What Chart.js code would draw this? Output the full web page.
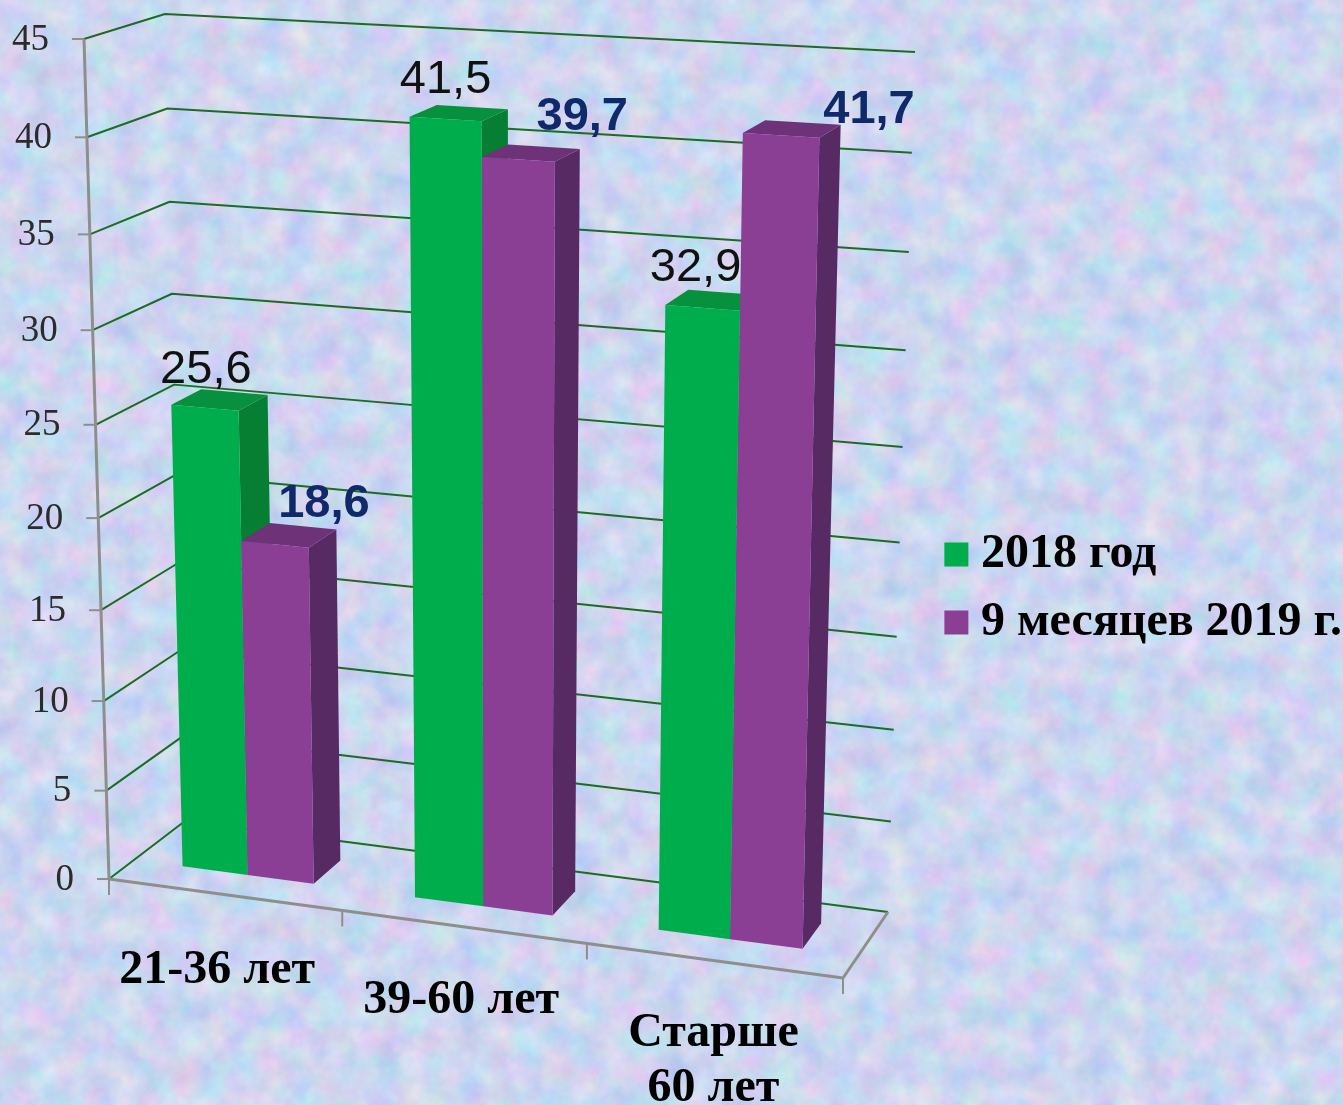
<!DOCTYPE html>
<html lang="ru">
<head>
<meta charset="utf-8">
<title>Chart</title>
<style>
    html, body { margin: 0; padding: 0; width: 1343px; height: 1105px; overflow: hidden; background: #c9d8f0; }
    #texture { position: absolute; left: 0; top: 0; }
    #chart { position: absolute; left: 0; top: 0; filter: blur(0.5px); }
</style>
<script src="https://cdn.jsdelivr.net/npm/chart.js@4"></script>
</head>
<body>
<svg id="texture" width="1343" height="1105">
    <filter id="paper" color-interpolation-filters="sRGB" x="0" y="0" width="100%" height="100%">
        <feTurbulence type="fractalNoise" baseFrequency="0.035" numOctaves="4" seed="7"/>
        <feColorMatrix type="matrix" values="0.3 0 0 0 0.65  0 0.2 0 0 0.74  0 0 0.1 0 0.89  0 0 0 0 1"/>
    </filter>
    <rect width="1343" height="1105" filter="url(#paper)"/>
</svg>
<canvas id="chart" width="1343" height="1105"></canvas>
<script>
const categories = ['21-36 лет', '39-60 лет', ['Старше', '60 лет']];
const series2018 = [25.6, 41.5, 32.9];
const series2019 = [18.6, 39.7, 41.7];
const seriesNames = ['2018 год', '9 месяцев 2019 г.'];
const yMax = 45;
const yStep = 5;

// corners of the 3D box on screen
const frontBL = [109, 879], frontBR = [843, 978], frontTL = [84, 39], frontTR = [862, 83];
const backBL = [185, 821], backBR = [888, 912], backTL = [165, 14], backTR = [915, 52];
const barDepth = [0.33, 0.72];

const lerp = (a, b, t) => [a[0] + (b[0] - a[0]) * t, a[1] + (b[1] - a[1]) * t];

const project = (u, v, d) => {
    const uu = 0.93 * u + 0.07 * u * u;
    const w = 0.94 * v + 0.06 * v * v;
    const front = lerp(lerp(frontBL, frontBR, uu), lerp(frontTL, frontTR, uu), w);
    const back = lerp(lerp(backBL, backBR, uu), lerp(backTL, backTR, uu), w);
    return lerp(front, back, d);
};

const polyline = (ctx, points, color, width) => {
    ctx.beginPath();
    points.forEach((p, i) => (i ? ctx.lineTo(p[0], p[1]) : ctx.moveTo(p[0], p[1])));
    ctx.strokeStyle = color;
    ctx.lineWidth = width;
    ctx.stroke();
};

const quad = (ctx, points, color) => {
    ctx.beginPath();
    points.forEach((p, i) => (i ? ctx.lineTo(p[0], p[1]) : ctx.moveTo(p[0], p[1])));
    ctx.closePath();
    ctx.fillStyle = color;
    ctx.fill();
};

const faceColors = [
    { side: '#067f32', top: '#07903e' },
    { side: '#582a63', top: '#6e3278' },
];
const labelStyles = [
    { font: '47px "Liberation Sans"', color: '#111111', nudge: [[1, -25], [0, -26], [-7, -27]] },
    { font: 'bold 47px "Liberation Sans"', color: '#10296b', nudge: [[49, -27], [64, -29], [88, -12]] },
];
const categoryNudge = [[-7, 88], [-2, 86], [0, 85]];

const box3d = {
    id: 'box3d',
    beforeDatasetsDraw(chart) {
        const { ctx, chartArea: area, scales: { x, y } } = chart;
        const toU = (px) => (px - area.left) / (area.right - area.left);
        const toV = (py) => (area.bottom - py) / (area.bottom - area.top);

        ctx.save();
        ctx.lineJoin = 'round';

        // walls
        y.ticks.forEach((tick) => {
            const v = toV(y.getPixelForValue(tick.value));
            polyline(ctx, [project(0, v, 0), project(0, v, 1), project(1, v, 1)], '#1d6c24', 2);
        });

        // bars, one category at a time so the nearer faces cover the others
        categories.forEach((cat, i) => {
            chart.data.datasets.forEach((ds, k) => {
                const el = chart.getDatasetMeta(k).data[i];
                const u0 = toU(el.x - el.width / 2);
                const u1 = toU(el.x + el.width / 2);
                const v = toV(el.y);
                const [d0, d1] = barDepth;
                quad(ctx, [project(u1, 0, d0), project(u1, 0, d1), project(u1, v, d1), project(u1, v, d0)], faceColors[k].side);
                quad(ctx, [project(u0, v, d0), project(u1, v, d0), project(u1, v, d1), project(u0, v, d1)], faceColors[k].top);
                quad(ctx, [project(u0, 0, d0), project(u1, 0, d0), project(u1, v, d0), project(u0, v, d0)], ds.backgroundColor);
            });
        });

        // axes
        const axisColor = '#8e8e8c';
        polyline(ctx, [project(0, 1, 0), project(0, 0, 0), project(1, 0, 0), project(1, 0, 1)], axisColor, 3);
        y.ticks.forEach((tick) => {
            const p = project(0, toV(y.getPixelForValue(tick.value)), 0);
            polyline(ctx, [[p[0] - 12, p[1]], p], axisColor, 2);
        });
        const step = (area.right - area.left) / categories.length;
        for (let i = 0; i <= categories.length; i++) {
            const p = project(toU(area.left + step * i), 0, 0);
            polyline(ctx, [p, [p[0], p[1] + 16]], axisColor, 2);
        }

        // y tick labels
        ctx.font = '37px "Liberation Serif"';
        ctx.fillStyle = '#2b2b2b';
        ctx.textAlign = 'right';
        ctx.textBaseline = 'middle';
        y.ticks.forEach((tick) => {
            const p = project(0, toV(y.getPixelForValue(tick.value)), 0);
            ctx.fillText(tick.label, p[0] - 35, p[1] + 1);
        });

        // category labels
        ctx.font = 'bold 48px "Liberation Serif"';
        ctx.fillStyle = '#000000';
        ctx.textAlign = 'center';
        ctx.textBaseline = 'alphabetic';
        categories.forEach((cat, i) => {
            const p = project(toU(x.getPixelForValue(i)), 0, 0);
            [].concat(cat).forEach((line, n) => {
                ctx.fillText(line, p[0] + categoryNudge[i][0], p[1] + categoryNudge[i][1] + n * 55);
            });
        });

        // value labels
        chart.data.datasets.forEach((ds, k) => {
            ctx.font = labelStyles[k].font;
            ctx.fillStyle = labelStyles[k].color;
            ds.data.forEach((value, i) => {
                const el = chart.getDatasetMeta(k).data[i];
                const p = project(toU(el.x), toV(el.y), barDepth[0]);
                const nudge = labelStyles[k].nudge[i];
                ctx.fillText(String(value).replace('.', ','), p[0] + nudge[0], p[1] + nudge[1]);
            });
        });

        ctx.restore();
        return false;
    },
};

new Chart(document.getElementById('chart'), {
    type: 'bar',
    data: {
        labels: categories,
        datasets: [
            { label: seriesNames[0], data: series2018, backgroundColor: '#00ad4c', borderColor: '#00ad4c', borderWidth: 23 },
            { label: seriesNames[1], data: series2019, backgroundColor: '#8a3f94', borderColor: '#8a3f94', borderWidth: 23 },
        ],
    },
    options: {
        responsive: false,
        animation: false,
        layout: { padding: { top: 72, right: -9 } },
        categoryPercentage: 0.57,
        barPercentage: 1,
        scales: {
            x: { display: false },
            y: { display: false, min: 0, max: yMax, ticks: { stepSize: yStep } },
        },
        plugins: {
            tooltip: { enabled: false },
            legend: {
                position: 'right',
                labels: {
                    boxWidth: 1,
                    boxHeight: 1,
                    padding: 20,
                    color: '#000000',
                    font: { family: '"Liberation Serif"', size: 48, weight: 'bold' },
                },
            },
        },
    },
    plugins: [box3d],
});
</script>
</body>
</html>
